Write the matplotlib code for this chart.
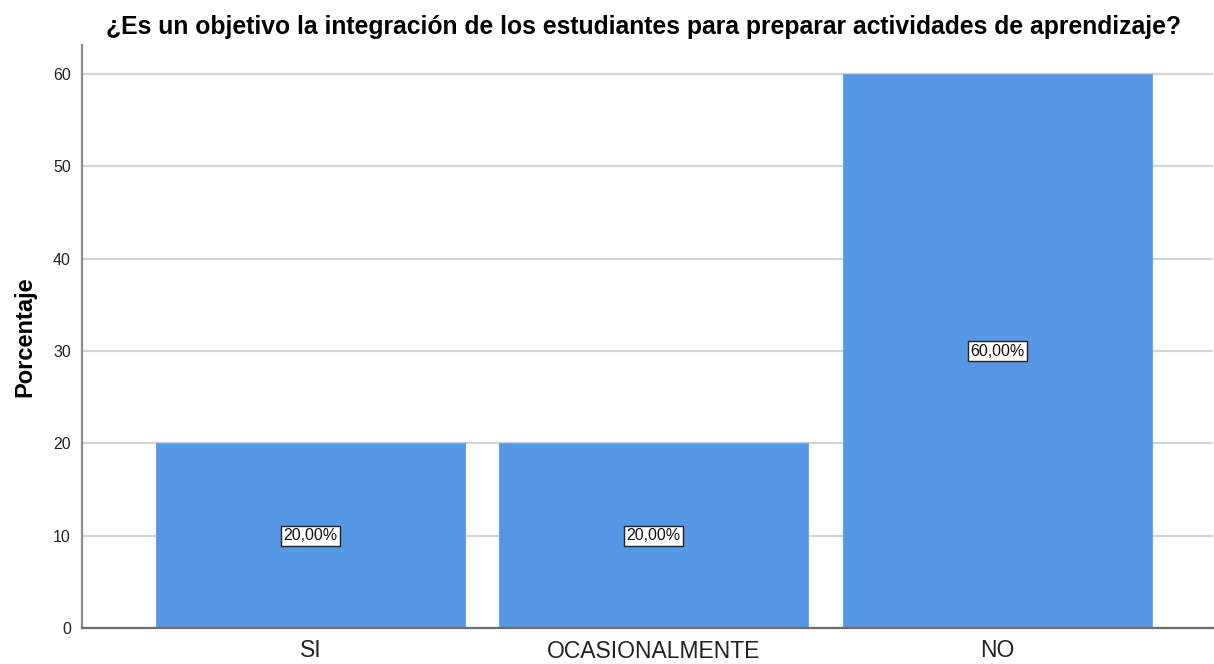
import matplotlib
matplotlib.use("Agg")
import matplotlib.pyplot as plt

categories = ["SI", "OCASIONALMENTE", "NO"]
values = [20.0, 20.0, 60.0]
labels = ["20,00%", "20,00%", "60,00%"]
yticks = [0, 10, 20, 30, 40, 50, 60]

plt.rcParams['font.family'] = ['Liberation Sans', 'DejaVu Sans']

fig = plt.figure(figsize=(12.14, 6.64), dpi=100)
ax = fig.add_axes([82/1214, 1-628/664, (1213-82)/1214, (628-45)/664])

x = list(range(len(categories)))
ax.bar(x, values, width=0.9, color='#5596e5', edgecolor='#6aa6ee', linewidth=0.8, zorder=2)
for xi, v, lab in zip(x, values, labels):
    ax.text(xi, v/2, lab, ha='center', va='center', fontsize=11.5, zorder=3, color='#111111',
            bbox=dict(boxstyle='square,pad=0.15', facecolor='white', edgecolor='#222222', linewidth=1.0))

ax.set_xlim(-0.665, 2.629)
ax.set_ylim(0, 63.15)
ax.set_yticks(yticks)
ax.set_yticklabels([str(t) for t in yticks], fontsize=11.5, color='#222222')
ax.set_xticks(x)
ax.set_xticklabels(categories, fontsize=16.5, color='#222222')
for i, t in enumerate(ax.get_xticklabels()):
    if i == 1:
        t.set_y(-0.002)
ax.tick_params(axis='y', length=0, pad=8)
ax.tick_params(axis='x', length=0, pad=8)
ax.yaxis.grid(True, color='#d4d4d4', linewidth=1.6, zorder=0)
ax.set_axisbelow(True)
for s in ['top', 'right']:
    ax.spines[s].set_visible(False)
ax.spines['left'].set_color('#8c8c8c')
ax.spines['left'].set_linewidth(1.6)
ax.spines['bottom'].set_color('#6e6e6e')
ax.spines['bottom'].set_linewidth(1.6)

ax.set_ylabel("Porcentaje", fontsize=17, fontweight='bold')
ax.yaxis.set_label_coords(-46/1131, 0.5)
fig.text(643/1214, 1-27/664, "¿Es un objetivo la integración de los estudiantes para preparar actividades de aprendizaje?",
         ha='center', va='center', fontsize=17.8, fontweight='bold')

fig.savefig("out.png", dpi=100, facecolor='white')
